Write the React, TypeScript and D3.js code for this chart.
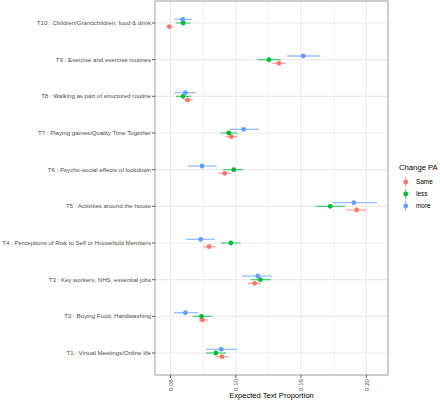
import React from "react";
import * as d3 from "d3";

const categories = [
  "T10 : Children/Grandchildren, food & drink",
  "T9 : Exercise and exercise routines",
  "T8 : Walking as part of structured routine",
  "T7 : Playing games/Quality Time Together",
  "T6 : Psycho-social effects of lockdown",
  "T5 : Activities around the house",
  "T4 : Perceptions of Risk to Self or Household Members",
  "T3 : Key workers, NHS, essential jobs",
  "T2 : Buying Food, Handwashing",
  "T1 : Virtual Meetings/Online life",
];

const groups = ["Same", "less", "more"];
const colors = ["#F8766D", "#00BA38", "#619CFF"];

// estimates [est, lo, hi] per category (same order as categories)
const sameVals = [
  [0.049, 0.047, 0.0517],
  [0.1331, 0.128, 0.1384],
  [0.0631, 0.0598, 0.067],
  [0.0966, 0.092, 0.1012],
  [0.0915, 0.0866, 0.0961],
  [0.1926, 0.1844, 0.2002],
  [0.0795, 0.0749, 0.0843],
  [0.1145, 0.1093, 0.1193],
  [0.0744, 0.0716, 0.0787],
  [0.0894, 0.0843, 0.0946],
];
const lessVals = [
  [0.0596, 0.054, 0.065],
  [0.1254, 0.1165, 0.1344],
  [0.0596, 0.0542, 0.0659],
  [0.0946, 0.0884, 0.1014],
  [0.0984, 0.0904, 0.1057],
  [0.1724, 0.1614, 0.1836],
  [0.0962, 0.0887, 0.1038],
  [0.1188, 0.1116, 0.1269],
  [0.0737, 0.067, 0.0818],
  [0.0848, 0.0772, 0.0925],
];
const moreVals = [
  [0.0593, 0.0527, 0.0665],
  [0.1517, 0.1394, 0.1647],
  [0.0614, 0.053, 0.0695],
  [0.106, 0.0956, 0.1175],
  [0.0741, 0.0634, 0.0854],
  [0.1905, 0.1742, 0.2083],
  [0.0731, 0.0619, 0.0839],
  [0.1168, 0.1045, 0.128],
  [0.0614, 0.0527, 0.0711],
  [0.0889, 0.0772, 0.1012],
];
const seriesVals = [sameVals, lessVals, moreVals];

const majorTicks = [0.05, 0.1, 0.15, 0.2];
const minorTicks = [0.075, 0.125, 0.175];
const tickLabels = ["0.05", "0.10", "0.15", "0.20"];
const xTitle = "Expected Text Proportion";
const legendTitle = "Change PA";

export default function App() {
  const W = 440, H = 401;
  const left = 155, right = 388, top = 1, bottom = 375;
  const x = d3.scaleLinear().domain([0.0381, 0.2166]).range([left, right]);
  const y = d3
    .scalePoint<string>()
    .domain(categories)
    .range([top, bottom])
    .padding(0.6);
  const step = y.step();
  const dodge = [0.1, 0, -0.1]; // Same below, more above
  const font = "Liberation Sans, Arial, sans-serif";

  return (
    <svg
      width={W}
      height={H}
      style={{ position: "absolute", left: 0, top: 0, background: "#fff" }}
      fontFamily={font}
    >
      <rect x={left} y={top} width={right - left} height={bottom - top} fill="#fff" />
      {minorTicks.map((t) => (
        <line key={"mn" + t} x1={x(t)} x2={x(t)} y1={top} y2={bottom} stroke="#EBEBEB" strokeWidth={0.6} />
      ))}
      {majorTicks.map((t) => (
        <line key={"mj" + t} x1={x(t)} x2={x(t)} y1={top} y2={bottom} stroke="#EBEBEB" strokeWidth={1.1} />
      ))}
      {categories.map((c) => (
        <line key={"hg" + c} x1={left} x2={right} y1={y(c)} y2={y(c)} stroke="#EBEBEB" strokeWidth={1.1} />
      ))}
      {seriesVals.map((vals, gi) => (
        <g key={groups[gi]}>
          {categories.map((c, i) => {
            const cy = (y(c) as number) + dodge[gi] * step;
            const [est, lo, hi] = vals[i];
            return (
              <g key={c}>
                <line x1={x(lo)} x2={x(hi)} y1={cy} y2={cy} stroke={colors[gi]} strokeWidth={1.3} strokeOpacity={0.65} />
                <circle cx={x(est)} cy={cy} r={2.4} fill={colors[gi]} />
              </g>
            );
          })}
        </g>
      ))}
      <rect x={left} y={top} width={right - left} height={bottom - top} fill="none" stroke="#333" strokeWidth={0.8} strokeOpacity={0.6} />
      {categories.map((c) => (
        <g key={"yl" + c}>
          <line x1={left - 3} x2={left} y1={y(c)} y2={y(c)} stroke="#333" strokeWidth={0.8} />
          <text x={left - 4} y={(y(c) as number) + 2} textAnchor="end" fontSize={6.1} fill="#4D4D4D">
            {c}
          </text>
        </g>
      ))}
      {majorTicks.map((t, i) => (
        <g key={"xl" + t}>
          <line x1={x(t)} x2={x(t)} y1={bottom} y2={bottom + 3} stroke="#333" strokeWidth={0.8} />
          <text
            transform={`translate(${x(t) + 2.2},${bottom + 4}) rotate(-90)`}
            textAnchor="end"
            fontSize={6.1}
            fill="#4D4D4D"
          >
            {tickLabels[i]}
          </text>
        </g>
      ))}
      <text x={(left + right) / 2} y={398} textAnchor="middle" fontSize={7.6} fill="#000">
        {xTitle}
      </text>
      <text x={399} y={170} fontSize={7.7} fill="#000">
        {legendTitle}
      </text>
      {groups.map((g, i) => {
        const ky = 182 + i * 12;
        return (
          <g key={"lg" + g}>
            <line x1={405.7} x2={405.7} y1={ky - 5} y2={ky + 5} stroke={colors[i]} strokeWidth={1.2} strokeOpacity={0.65} />
            <circle cx={405.7} cy={ky} r={2.4} fill={colors[i]} />
            <text x={416} y={ky + 2.3} fontSize={6.4} fill="#000">
              {g}
            </text>
          </g>
        );
      })}
    </svg>
  );
}
